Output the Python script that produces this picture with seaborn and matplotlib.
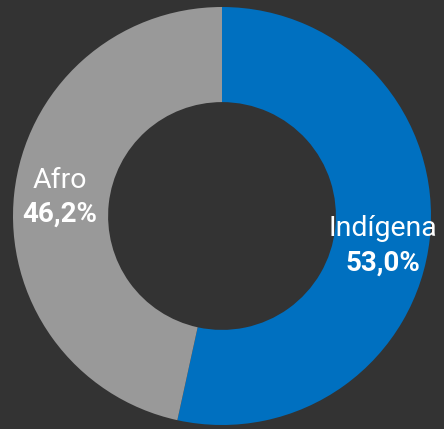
import matplotlib
matplotlib.use("Agg")
import matplotlib.pyplot as plt
import seaborn as sns

categories = ["Indígena", "Afro"]
values = [53.0, 46.2]
value_labels = ["53,0%", "46,2%"]

sns.set_theme(style="white")
plt.rcParams['font.family'] = ['Roboto', 'DejaVu Sans']

bg = "#333333"
colors = ["#0070C0", "#999999"]

fig = plt.figure(figsize=(4.44, 4.29), dpi=100, facecolor=bg)
W, H = 444, 429
cx, cy, R = 222, 216, 209
ax = fig.add_axes([(cx - R) / W, (H - cy - R) / H, 2 * R / W, 2 * R / H])
ax.set_facecolor(bg)

wedges, _ = ax.pie(values, colors=colors, startangle=90, counterclock=False,
                   radius=1.0, wedgeprops=dict(width=0.455, linewidth=0))
ax.set_xlim(-1, 1)
ax.set_ylim(-1, 1)
ax.set_aspect("equal")
ax.axis("off")

# label positions (name line, value line)
pos = {
    "Indígena": ((383 - cx) / R, (cy - 228) / R, (cy - 263) / R),
    "Afro": ((59.5 - cx) / R, (cy - 180) / R, (cy - 214) / R),
}
for cat, vl in zip(categories, value_labels):
    x, y1, y2 = pos[cat]
    ax.text(x, y1, cat, ha="center", va="center", color="white",
            fontsize=20.5, fontweight="normal")
    ax.text(x, y2, vl, ha="center", va="center", color="white",
            fontsize=20, fontweight="bold")

fig.savefig("out.png", dpi=100, facecolor=bg)
